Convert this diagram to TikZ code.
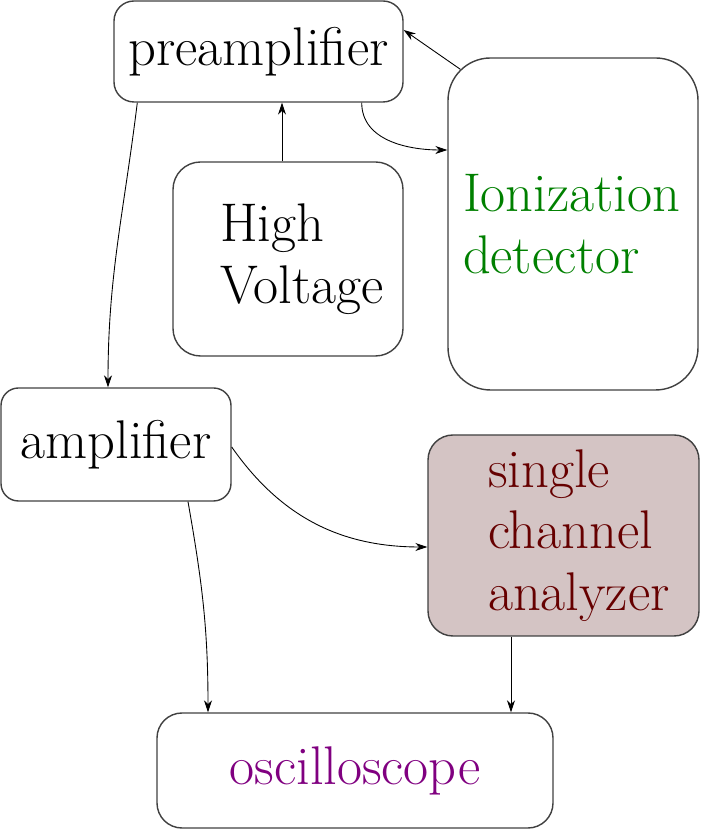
\documentclass[tikz,border=0pt]{standalone}
\usepackage{tikz}
\usetikzlibrary{arrows.meta}
\definecolor{detgreen}{RGB}{0,128,0}
\definecolor{scafill}{RGB}{212,196,196}
\definecolor{scatext}{RGB}{102,0,0}
\definecolor{oscpurple}{RGB}{128,0,128}
\tikzset{
	unit/.style={draw=black!75, line width=0.8pt, font=\fontsize{31}{35}\selectfont},
	wire/.style={-{Stealth[length=2.4mm,width=1.6mm]}, line width=0.5pt},
}

\begin{document}
\begin{tikzpicture}
	\useasboundingbox (0,0) rectangle (14,16.58);
	\node[unit, rounded corners=0.4cm, minimum width=5.78cm, minimum height=2.02cm] (pre) at (5.17,15.55) {preamplifier};
	\node[unit, rounded corners=0.55cm, minimum width=4.6cm, minimum height=3.88cm, text width=2.72cm, align=left] (hv) at (5.76,11.40) {High\\Voltage};
	\node[unit, rounded corners=0.85cm, minimum width=5cm, minimum height=6.64cm, text width=4.4cm, align=left, text=detgreen] (det) at (11.46,12.10) {Ionization\\detector};
	\node[unit, rounded corners=0.35cm, minimum width=4.6cm, minimum height=2.26cm] (amp) at (2.32,7.69) {amplifier};
	\node[unit, rounded corners=0.5cm, minimum width=5.42cm, minimum height=4.02cm, text width=3.02cm, align=left, fill=scafill, text=scatext] (sca) at (11.27,5.87) {single\\channel\\analyzer};
	\node[unit, rounded corners=0.5cm, minimum width=7.92cm, minimum height=2.3cm, text=oscpurple] (osc) at (7.10,1.17) {oscilloscope};
	% signal path
	\draw[wire] ([shift={(0.26,-0.24)}]det.north west) -- ([yshift=0.43cm]pre.east);
	\draw[wire] ([xshift=-0.84cm]pre.south east) to[out=-90,in=180] ([yshift=1.48cm]det.west);
	\draw[wire] ([xshift=-0.12cm]hv.north) -- ([xshift=-0.12cm]hv.north |- pre.south);
	\draw[wire] ([xshift=0.48cm]pre.south west) to[out=-97,in=90] ([xshift=-0.16cm]amp.north);
	\draw[wire] ([yshift=-0.05cm]amp.east) to[out=-55,in=180] ([yshift=-0.23cm]sca.west);
	\draw[wire] ([xshift=1.44cm]amp.south) to[out=-80,in=90] ([xshift=-2.94cm]osc.north);
	\draw[wire] ([xshift=-1.05cm]sca.south) -- ([xshift=-1.05cm]sca.south |- osc.north);
\end{tikzpicture}
\end{document}
